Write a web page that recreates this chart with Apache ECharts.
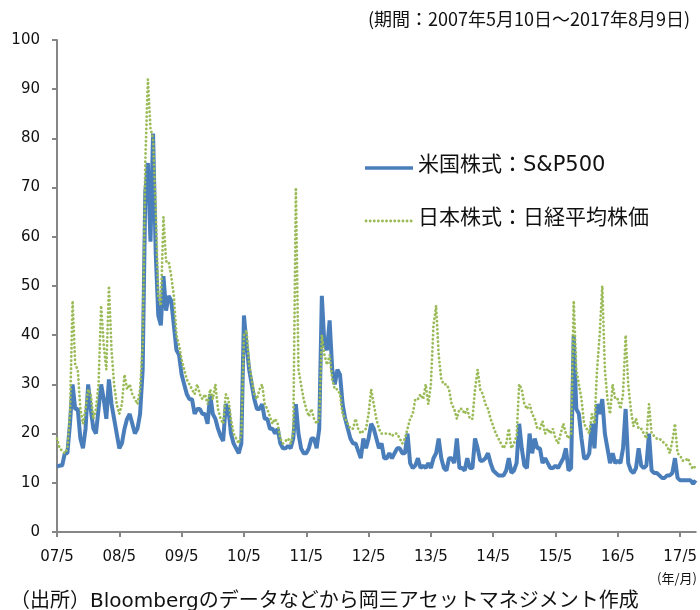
<!DOCTYPE html>
<html><head><meta charset="utf-8">
<script src="https://cdn.jsdelivr.net/npm/echarts@6/dist/echarts.min.js"></script>
<style>html,body{margin:0;padding:0;background:#fff}#c{width:700px;height:610px}</style>
</head><body><div id="c"></div>
<script>
// x tick labels (every 12 months from 2007/5)
const tickLabels = ['07/5','08/5','09/5','10/5','11/5','12/5','13/5','14/5','15/5','16/5','17/5'];
// semi-monthly readings, 2007-05-10 .. 2017-08-09
const sp500 = [
 13.3,13.5,13.5,16,16,22,30,25,25,19,17,21,30,25,21,20,25,30,27,23,31,26,23,20,
 17,18,21,23,24,22,20,21,24,33,69,75,59,81,57,44,42,52,45,48,47,42,37,36,
 32,30,28,27,27,24,25,25,24,24,22,28,24,23,21,19.5,18.5,26,25,20,18,17,16,18,
 44,38,33,30,27,25,25,26,23,23,21,21,20,21,18,17,17,17.5,17,19,26,20,17,16,
 16,17,19,19,17,21,48,38,37,43,33,30,33,32,26,23,21,19,18,18,16.5,15,19,17,
 19,22,21,19,17,18,15,15,16,15,16,17,17,16,16,20,14,13,13.5,15,13,13.5,13,14,
 13,15,16,19,15,13,12.5,15,15,14,19,13,13,12.5,15,13,13,19,17,14.5,14.5,15,16,14,
 12.5,12,11.5,11.5,11.5,12.5,15,12,12.5,14,22,17,13.5,13,20,16,19,17,17,14,15,14,13,13,
 13.5,13,14,15,17,12.5,13,40,25,24,19,15,15,16,22,17,26,24,27,20,17,14,16,14,
 14.5,14,17,25,14,12.5,12,13,17,13.5,13,13.5,20,12.5,12,12,11.5,11,11,11.5,11.5,12,15,11,
 10.5,10.5,10.5,10.5,10.5,9.8,10.5
];
const nikkei = [
 19,17,16.5,16,17,24,47,34,33,25,22,25,29,28,23,25,30,46,38,33,50,37,30,26,
 24,26,32,29,30,28,27,26,29,38,75,92,82,80,66,48,46,64,55,55,52,48,40,38,
 35,33,31,30,29,28,30,28,27,28,26,29,27,30,25,23,22,28,27,23,20,19,18,20,
 40,41,34,31,28,27,29,30,26,25,23.5,22,23,22,19,18,18.5,19,18,20,70,33,30,27,
 25,23.5,25,23,22,23,40,36,34,36,31,29,29,28,24,23,22,21,21,23,21,20,20.5,21,
 24,29,26,23,21,20,20,20,20,19.5,20,20,19,18,19,21,23,24,27,27,28,27,30,26,
 30,42,46,36,31,30,30,29,26,25,23,25,25,24,25,23,23,29,33,29,28,26,25,23,
 21.5,20,19,18,17,18,21,17,18,19.5,30,29,26,25,26,24,23,21,21,22.5,20,21,20,21,
 19,18,20,22,20,19,20,47,33,30,27,22,21,20,24,22,33,40,50,33,27,24,30,27,
 27,25,28,40,30,25,21.5,23,21,21,20,19,26,20,19.5,19,19,18.5,18,17.5,16,18.5,22,16,
 15.5,14.5,14.5,15,13.5,12.8,13.5
];
const seriesNames = ['米国株式：S&P500', '日本株式：日経平均株価'];
const periodText = '(期間：2007年5月10日～2017年8月9日)';
const unitText = '(年/月)';
const sourceText = '（出所）Bloombergのデータなどから岡三アセットマネジメント作成';

const categories = sp500.map((_, i) => String(i));
const axisColor = '#868686';
const blue = '#4A7EBB';
const green = '#9BBB59';
const latin = "'DejaVu Sans', 'Noto Sans CJK JP', sans-serif";
const jp = "'Noto Sans CJK JP', sans-serif";
const greenDash = [0.1, 4];

const chart = echarts.init(document.getElementById('c'), null, {renderer: 'canvas'});
chart.setOption({
  animation: false,
  backgroundColor: '#fff',
  grid: {left: 57, right: 3, top: 40, bottom: 78, containLabel: false},
  xAxis: {
    type: 'category', data: categories, boundaryGap: false,
    axisLine: {lineStyle: {color: axisColor, width: 2}},
    axisTick: {interval: (i) => i % 24 === 0, length: 5, lineStyle: {color: axisColor, width: 2}},
    axisLabel: {interval: (i) => i % 24 === 0, formatter: (v, i) => tickLabels[i / 24] || '',
      margin: 18, fontSize: 15, color: '#111', fontFamily: latin},
    splitLine: {show: false}
  },
  yAxis: {
    type: 'value', min: 0, max: 100, interval: 10,
    axisLine: {show: true, lineStyle: {color: axisColor, width: 2}},
    axisTick: {show: true, length: 5, lineStyle: {color: axisColor, width: 2}},
    axisLabel: {fontSize: 15, margin: 17, color: '#111', fontFamily: latin},
    splitLine: {show: false}
  },
  series: [
    {name: seriesNames[0], type: 'line', data: sp500, symbol: 'none', showSymbol: false,
     lineStyle: {color: blue, width: 4}, itemStyle: {color: blue}, z: 2},
    {name: seriesNames[1], type: 'line', data: nikkei, symbol: 'none', showSymbol: false,
     lineStyle: {color: green, width: 2.8, type: greenDash, cap: 'round'}, itemStyle: {color: green}, z: 3}
  ],
  graphic: [
    // legend
    {type: 'line', shape: {x1: 365, y1: 168, x2: 413, y2: 168}, style: {stroke: blue, lineWidth: 3.5}},
    {type: 'text', left: 418, top: 155, style: {text: seriesNames[0], fontSize: 21, fill: '#111', fontFamily: latin}},
    {type: 'line', shape: {x1: 366, y1: 221, x2: 413, y2: 221}, style: {stroke: green, lineWidth: 2.8, lineDash: greenDash, lineCap: 'round'}},
    {type: 'text', left: 418, top: 208, style: {text: seriesNames[1], fontSize: 21, fill: '#111', fontFamily: latin}},
    // texts
    {type: 'text', right: 10, top: 10, style: {text: periodText, fontSize: 18, fill: '#111', fontFamily: jp}},
    {type: 'text', right: 3, top: 572, style: {text: unitText, fontSize: 13, fill: '#111', fontFamily: jp}},
    {type: 'text', left: 10, top: 592, style: {text: sourceText, fontSize: 20, fill: '#111', fontFamily: latin}}
  ]
});
</script></body></html>
